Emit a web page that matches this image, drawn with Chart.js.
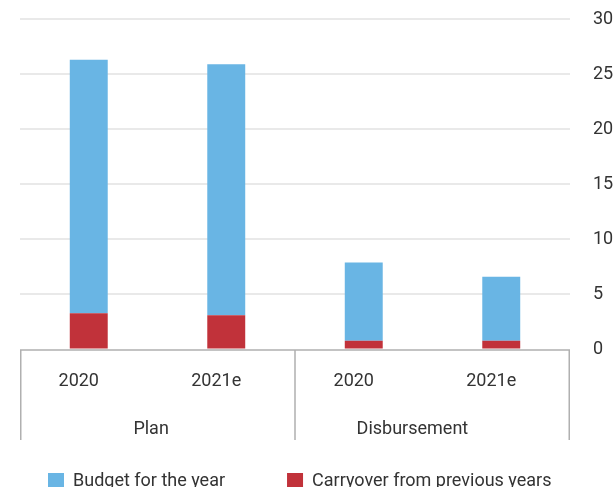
<!DOCTYPE html>
<html>
<head>
<meta charset="utf-8">
<script src="https://cdn.jsdelivr.net/npm/chart.js@4"></script>
<style>
html,body{margin:0;padding:0;overflow:hidden;background:#fff;width:615px;height:487px}
canvas{display:block}
</style>
</head>
<body>
<canvas id="c" width="615" height="487"></canvas>
<script>
// ---- data ----
const categories = ['2020', '2021e', '2020', '2021e'];
const groups = ['Plan', 'Disbursement'];
const groupSizes = [2, 2];
const seriesNames = ['Budget for the year', 'Carryover from previous years'];
const budget = [23.0, 22.8, 7.1, 5.8];
const carryover = [3.3, 3.1, 0.8, 0.8];
const yTicks = [0, 5, 10, 15, 20, 25, 30];

const TEXT = '#333333';
const FONT = 'Roboto';

// x-axis box with group labels, plus the legend row at the bottom
const groupPlugin = {
  id: 'groupBox',
  afterDraw(chart) {
    const {ctx, chartArea: a, scales: {x}} = chart;
    const n = categories.length;
    const edge = i => i === 0 ? x.left : (i === n ? x.right :
      (x.getPixelForTick(i - 1) + x.getPixelForTick(i)) / 2);
    const top = a.bottom + 0.5;
    const bottom = a.bottom + 90.5;
    const bounds = [0];
    groupSizes.forEach(s => bounds.push(bounds[bounds.length - 1] + s));
    ctx.save();
    ctx.strokeStyle = '#b0b0b0';
    ctx.lineWidth = 1.5;
    ctx.beginPath();
    ctx.moveTo(x.left, top);
    ctx.lineTo(x.right, top);
    bounds.forEach(b => {
      const px = Math.min(Math.max(edge(b), x.left + 0.75), x.right - 0.75);
      ctx.moveTo(px, top);
      ctx.lineTo(px, bottom);
    });
    ctx.stroke();
    ctx.fillStyle = TEXT;
    ctx.font = '18px ' + FONT;
    ctx.textBaseline = 'alphabetic';
    ctx.textAlign = 'left';
    groups.forEach((g, gi) => {
      const l = edge(bounds[gi]), r = edge(bounds[gi + 1]);
      const c = (l + r) / 2;
      const w = ctx.measureText(g).width;
      ctx.fillText(g, c - 0.68 * w, a.bottom + 84.5);
    });

    // legend (datasets in reverse order: Budget first)
    const items = chart.data.datasets.slice().reverse();
    const box = 16, gapText = 9, gapItem = 62;
    const widths = items.map(d => box + gapText + ctx.measureText(d.label).width);
    let lx = a.left + 28;
    const boxTop = a.bottom + 123.5;
    const baseline = a.bottom + 136.5;
    items.forEach((d, i) => {
      ctx.fillStyle = d.backgroundColor;
      ctx.fillRect(lx, boxTop, box, box);
      ctx.fillStyle = TEXT;
      ctx.fillText(d.label, lx + box + gapText, baseline);
      lx += widths[i] + gapItem;
    });
    ctx.restore();
  }
};

Chart.defaults.font.family = FONT;
Chart.defaults.font.size = 18;
Chart.defaults.color = TEXT;

new Chart(document.getElementById('c'), {
  type: 'bar',
  data: {
    labels: categories,
    datasets: [
      {label: seriesNames[1], data: carryover, backgroundColor: '#c1323a',
       barPercentage: 0.276, categoryPercentage: 1},
      {label: seriesNames[0], data: budget, backgroundColor: '#69b5e4',
       barPercentage: 0.276, categoryPercentage: 1}
    ]
  },
  options: {
    responsive: false,
    animation: false,
    devicePixelRatio: 1,
    layout: {padding: {top: 19, left: 0, right: 0, bottom: 74}},
    plugins: {
      legend: {display: false},
      tooltip: {enabled: false}
    },
    scales: {
      x: {
        stacked: true,
        grid: {display: false, drawTicks: false},
        border: {display: false},
        ticks: {padding: 21, labelOffset: -10, color: TEXT},
        afterFit(s) { s.height = 63.5; }
      },
      y: {
        stacked: true,
        position: 'right',
        min: yTicks[0],
        max: yTicks[yTicks.length - 1],
        afterBuildTicks(s) { s.ticks = yTicks.map(v => ({value: v})); },
        ticks: {padding: 0, color: TEXT},
        grid: {drawTicks: true, tickLength: 23, tickColor: 'rgba(0,0,0,0)', lineWidth: 2,
               color: c => (c.tick && c.tick.value === 0) ? 'rgba(0,0,0,0)' : '#e9e9e9'},
        border: {display: false},
        afterFit(s) { s.width = 45; }
      },
      yl: {
        type: 'linear',
        position: 'left',
        grid: {display: false, drawTicks: false},
        border: {display: false},
        ticks: {display: false},
        afterFit(s) { s.width = 20; }
      }
    }
  },
  plugins: [groupPlugin]
});
</script>
</body>
</html>
